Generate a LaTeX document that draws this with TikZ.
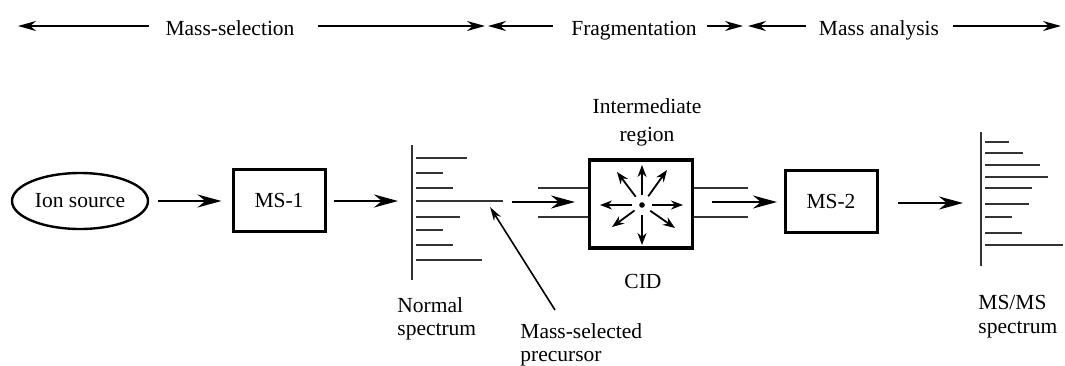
\documentclass[tikz,border=0pt]{standalone}
\usepackage{fontspec}
\setmainfont{Liberation Serif}
\usetikzlibrary{arrows.meta,shapes.geometric,calc}
\begin{document}
\begin{tikzpicture}[x=0.5pt,y=-0.5pt,
  font=\fontsize{10.75}{11.75}\selectfont,
  toparrow/.style={-{Stealth[length=9pt,width=5pt]}, line width=0.9pt},
  flow/.style={-{Stealth[length=12pt,width=6.5pt]}, line width=1.1pt},
  msbox/.style={draw, line width=1.5pt, minimum width=46pt, minimum height=31pt, inner sep=0pt},
  lbl/.style={inner sep=0pt},
  peak/.style={line width=0.6pt, draw=black!80},
  axis/.style={line width=0.8pt, draw=black!80},
  guide/.style={line width=0.6pt, draw=black!80},
  cidarrow/.style={-{Stealth[length=6pt,width=4.5pt]}, line width=0.9pt},
]
\useasboundingbox (0,0) rectangle (1065,365);

% ---- top row ----
\node[lbl, anchor=base] (tms) at (230,35) {Mass-selection};
\node[lbl, anchor=base] (tfr) at (634,35) {Fragmentation};
\node[lbl, anchor=base] (tma) at (879,35) {Mass analysis};
\coordinate (a1s) at (149,26); \coordinate (a1e) at (18,26);
\coordinate (a2s) at (318,26); \coordinate (a2e) at (485,26);
\coordinate (a3s) at (553,26); \coordinate (a3e) at (488,26);
\coordinate (a4s) at (707,26); \coordinate (a4e) at (743,26);
\coordinate (a5s) at (806,26); \coordinate (a5e) at (748,26);
\coordinate (a6s) at (953,26); \coordinate (a6e) at (1061,26);
\draw[toparrow] (a1s) -- (a1e);
\draw[toparrow] (a2s) -- (a2e);
\draw[toparrow] (a3s) -- (a3e);
\draw[toparrow] (a4s) -- (a4e);
\draw[toparrow] (a5s) -- (a5e);
\draw[toparrow] (a6s) -- (a6e);

% ---- main row ----
\node[draw, ellipse, line width=1.2pt, minimum width=68pt, minimum height=28pt, inner sep=0pt] (ion) at (80,201) {Ion source};
\node[msbox] (ms1) at (279,200) {MS-1};
\node[draw, line width=1.8pt, minimum width=51.5pt, minimum height=44pt, inner sep=0pt] (cid) at (641,204) {};
\node[msbox] (ms2) at (831,201) {MS-2};

% spectrum 1
\coordinate (s1top) at (412,145); \coordinate (s1bot) at (412,280);
\draw[axis] (s1top) -- (s1bot);
\foreach \yy/\xx in {158/467,173/443,188/453,217/460,230/443,245/453,260/482}
  \draw[peak] (416,\yy) -- (\xx,\yy);
\coordinate (prec) at (503,201);
\draw[peak] (416,201) -- (prec);

% spectrum 2
\coordinate (s2top) at (981,132); \coordinate (s2bot) at (981,266);
\draw[axis] (s2top) -- (s2bot);
\foreach \yy/\xx in {142/1009,153/1023,165/1040,177/1048,188/1032,204/1029,217/1012,233/1022,245/1063}
  \draw[peak] (985,\yy) -- (\xx,\yy);

% flow arrows
\draw[flow, shorten <=4.5pt, shorten >=5pt] (ion.east) -- (ms1.west |- ion.east);
\coordinate (s1in) at (398,201);
\draw[flow, shorten <=3.5pt] (ms1.east |- s1in) -- (s1in);
\coordinate (c1s) at (512,202); \coordinate (c1e) at (575,202);
\draw[flow] (c1s) -- (c1e);
\coordinate (c2s) at (712,202); \coordinate (c2e) at (777,202);
\draw[flow] (c2s) -- (c2e);
\coordinate (c3s) at (898,203); \coordinate (c3e) at (963,203);
\draw[flow] (c3s) -- (c3e);

% guide lines around CID
\draw[guide] (538,188) -- (cid.west |- 0,188);
\draw[guide] (538,217) -- (cid.west |- 0,217);
\draw[guide] (cid.east |- 0,188) -- (748,188);
\draw[guide] (cid.east |- 0,217) -- (748,217);

% CID interior
\coordinate (dot) at (642,205);
\fill (dot) circle (1.4pt);
\foreach \dx/\dy in {0/-40,-25/-33,25/-35,-42/0,41/0,-30/22,0/40,33/23}
  \draw[cidarrow] ($(dot)+(0.25*\dx,0.25*\dy)$) -- ($(dot)+(\dx,\dy)$);

% precursor pointer
\coordinate (pp) at (555,310); \coordinate (pt) at (490,207);
\draw[-{Stealth[length=7pt,width=4pt]}, line width=0.8pt] (pp) -- (pt);

% labels
\node[lbl, align=center, anchor=north] (inter) at (647,98) {Intermediate\\[2.5pt]region};
\node[lbl, anchor=base] (cidl) at (643,288) {CID};
\node[lbl, align=left, anchor=north west] (norm) at (397,297) {Normal\\spectrum};
\node[lbl, align=left, anchor=north west] (msel) at (520,323) {Mass-selected\\precursor};
\node[lbl, align=left, anchor=north west] (msms) at (978,295) {MS/MS\\spectrum};
\end{tikzpicture}
\end{document}
